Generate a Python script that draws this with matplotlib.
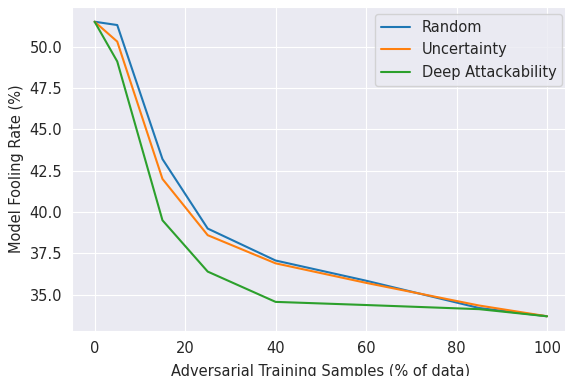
import matplotlib
matplotlib.use("Agg")
import matplotlib.pyplot as plt
import seaborn as sns

samples_pct = [0, 5, 15, 25, 40, 60, 85, 100]
random_rate = [51.5, 51.3, 43.2, 39.0, 37.07, 35.85, 34.2, 33.7]
uncertainty_rate = [51.5, 50.3, 42.0, 38.6, 36.9, 35.72, 34.35, 33.7]
deep_rate = [51.5, 49.1, 39.5, 36.4, 34.57, 34.38, 34.13, 33.7]
series_names = ["Random", "Uncertainty", "Deep Attackability"]

sns.set_style("darkgrid")
plt.rcParams['font.family'] = ['DejaVu Sans']

fig = plt.figure(figsize=(5.65, 3.76), dpi=100)
ax = fig.add_axes([72/565, 45/376, 497.6/565, 324/376])
colors = ["#1f77b4", "#ff7f0e", "#2ca02c"]
for vals, name, c in zip([random_rate, uncertainty_rate, deep_rate], series_names, colors):
    ax.plot(samples_pct, vals, color=c, lw=1.5, label=name)

ax.set_xticks([0, 20, 40, 60, 80, 100])
ax.set_yticks([35.0, 37.5, 40.0, 42.5, 45.0, 47.5, 50.0])
ax.tick_params(labelsize=10.5, colors=".15")
ax.set_xlabel("Adversarial Training Samples (% of data)", fontsize=10.5, color=".15", labelpad=6)
ax.set_ylabel("Model Fooling Rate (%)", fontsize=10.5, color=".15")
ax.legend(loc="upper right", fontsize=10.5)
fig.savefig("out.png", dpi=100)
